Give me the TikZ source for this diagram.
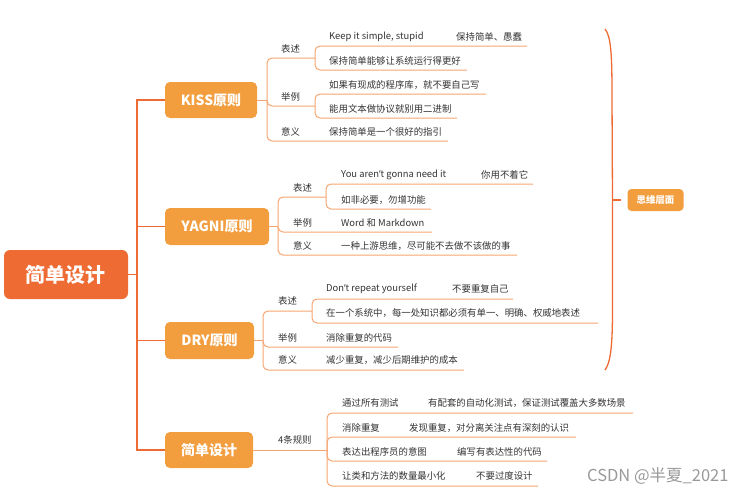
\documentclass[tikz,border=0pt]{standalone}
\usepackage{fontspec}
\setmainfont{Noto Sans CJK SC}
\newfontfamily\latfont{Noto Sans}
\newcommand{\apos}{{\latfont ’}}
\definecolor{trunkc}{HTML}{EE6B34}
\definecolor{boxc}{HTML}{F29D3E}
\definecolor{branchc}{HTML}{F6A470}
\definecolor{txtc}{HTML}{333333}
\tikzset{
  lbl/.style={font=\fontsize{9.4}{10}\selectfont, text=txtc, inner sep=0pt, anchor=west},
  ln/.style={draw=branchc, line width=1pt, rounded corners=5pt},
  mainln/.style={draw=trunkc, line width=1.3pt},
  boxnode/.style={fill=boxc, rounded corners=5pt, text=white, font=\bfseries\fontsize{14}{16}\selectfont, inner sep=0pt}
}
\begin{document}
\begin{tikzpicture}[x=1pt,y=-1pt]
\useasboundingbox (0,0) rectangle (748,493);
% root
\node[fill=trunkc, rounded corners=6pt, text=white, font=\bfseries\fontsize{20}{24}\selectfont, minimum width=124pt, minimum height=49pt, inner sep=0pt] (root) at (66,274.5) {简单设计};
\node[boxnode, minimum width=92pt, minimum height=36pt] (kiss) at (211,100) {KISS原则};
\node[boxnode, minimum width=104pt, minimum height=37pt] (yagni) at (217,226.5) {YAGNI原则};
\node[boxnode, minimum width=89pt, minimum height=37pt] (dry) at (209.5,340.5) {DRY原则};
\node[boxnode, minimum width=88pt, minimum height=36pt] (simple) at (209,450) {简单设计};
\coordinate (tj) at (137,274.5);
\draw[mainln] (root.east) -- (tj);
\draw[mainln] (tj) |- (kiss.west);
\draw[mainln] (tj) |- (simple.west);
\draw[mainln] (tj) |- (yagni.west);
\draw[mainln] (tj) |- (dry.west);

% ---------- KISS ----------
\coordinate (kj) at (267,100);
\draw[ln] (kiss.east) -- (kj);
\node[lbl] (k1) at (281,49) {表述};
\coordinate (k1j) at (315,58);
\draw[ln] (kj) |- (k1j);
\node[lbl] (k11) at (329,37) {Keep it simple, stupid};
\node[lbl] (k111) at (456,37) {保持简单、愚蠢};
\coordinate (k11e) at (527,46);
\draw[ln] (k1j) |- (k11e);
\node[lbl] (k12) at (329,61) {保持简单能够让系统运行得更好};
\coordinate (k12e) at (467,70);
\draw[ln] (k1j) |- (k12e);
\node[lbl] (k2) at (281,97) {举例};
\coordinate (k2j) at (315,106);
\draw[ln] (kj) |- (k2j);
\node[lbl] (k21) at (329,85) {如果有现成的程序库，就不要自己写};
\coordinate (k21e) at (486,94);
\draw[ln] (k2j) |- (k21e);
\node[lbl] (k22) at (329,109) {能用文本做协议就别用二进制};
\coordinate (k22e) at (457,118);
\draw[ln] (k2j) |- (k22e);
\node[lbl] (k3) at (281,132) {意义};
\node[lbl] (k31) at (329,132) {保持简单是一个很好的指引};
\coordinate (k3e) at (448,141);
\draw[ln] (kj) |- (k3e);

% ---------- YAGNI ----------
\coordinate (yj) at (278,226.5);
\draw[ln] (yagni.east) -- (yj);
\node[lbl] (y1) at (293,188) {表述};
\coordinate (y1j) at (326,197);
\draw[ln] (yj) |- (y1j);
\node[lbl] (y11) at (341,175) {You aren\apos t gonna need it};
\node[lbl] (y111) at (481,175) {你用不着它};
\coordinate (y11e) at (533,184);
\draw[ln] (y1j) |- (y11e);
\node[lbl] (y12) at (341,200) {如非必要，勿增功能};
\coordinate (y12e) at (431,209);
\draw[ln] (y1j) |- (y12e);
\node[lbl] (y2) at (293,223) {举例};
\node[lbl] (y21) at (341,223) {Word 和 Markdown};
\coordinate (y2e) at (432,232);
\draw[ln] (yj) |- (y2e);
\node[lbl] (y3) at (293,246) {意义};
\node[lbl] (y31) at (341,246) {一种上游思维，尽可能不去做不该做的事};
\coordinate (y3e) at (517,255);
\draw[ln] (yj) |- (y3e);

% ---------- DRY ----------
\coordinate (dj) at (263,340.5);
\draw[ln] (dry.east) -- (dj);
\node[lbl] (d1) at (278,301) {表述};
\coordinate (d1j) at (312,311);
\draw[ln] (dj) |- (d1j);
\node[lbl] (d11) at (326,289) {Don\apos t repeat yourself};
\node[lbl] (d111) at (452,289) {不要重复自己};
\coordinate (d11e) at (513,299);
\draw[ln] (d1j) |- (d11e);
\node[lbl] (d12) at (326,313) {在一个系统中，每一处知识都必须有单一、明确、权威地表述};
\coordinate (d12e) at (598,323);
\draw[ln] (d1j) |- (d12e);
\node[lbl] (d2) at (278,338) {举例};
\node[lbl] (d21) at (326,338) {消除重复的代码};
\coordinate (d2e) at (398,347);
\draw[ln] (dj) |- (d2e);
\node[lbl] (d3) at (278,360) {意义};
\node[lbl] (d31) at (326,360) {减少重复，减少后期维护的成本};
\coordinate (d3e) at (464,370);
\draw[ln] (dj) |- (d3e);

% ---------- Simple design ----------
\coordinate (sj) at (327,450);
\draw[ln] (simple.east) -- (sj);
\node[lbl] (s0) at (278,440) {4条规则};
\node[lbl] (s1) at (342,403) {通过所有测试};
\node[lbl] (s11) at (428,403) {有配套的自动化测试，保证测试覆盖大多数场景};
\coordinate (s1e) at (633,413);
\draw[ln] (sj) |- (s1e);
\node[lbl] (s2) at (342,428) {消除重复};
\node[lbl] (s21) at (409,428) {发现重复，对分离关注点有深刻的认识};
\coordinate (s2e) at (576,437);
\draw[ln] (sj) |- (s2e);
\node[lbl] (s3) at (342,452) {表达出程序员的意图};
\node[lbl] (s31) at (457,452) {编写有表达性的代码};
\coordinate (s3e) at (547,461);
\draw[ln] (sj) |- (s3e);
\node[lbl] (s4) at (342,476) {让类和方法的数量最小化};
\node[lbl] (s41) at (476,476) {不要过度设计};
\coordinate (s4e) at (538,486);
\draw[ln] (sj) |- (s4e);

% ---------- brace ----------
\coordinate (bt) at (605,29);
\coordinate (bm) at (612.5,200);
\coordinate (bb) at (605,370);
\draw[mainln] (bt) .. controls (611,36) and (612,55) .. (612,95) -- (bm) -- (612.5,310) .. controls (612.5,350) and (610,363) .. (bb);
\node[fill=boxc, rounded corners=4pt, text=white, font=\bfseries\fontsize{9.4}{10}\selectfont, minimum width=56pt, minimum height=22pt, inner sep=0pt] (think) at (655.5,200) {思维层面};
\coordinate (bt2) at (621,200);
\draw[mainln] (bm) -- (bt2);

% watermark
\node[anchor=west, inner sep=0pt, text=black!40, font=\fontsize{16.5}{18}\selectfont] (wm) at (587,476) {CSDN @半夏\_2021};
\end{tikzpicture}
\end{document}
